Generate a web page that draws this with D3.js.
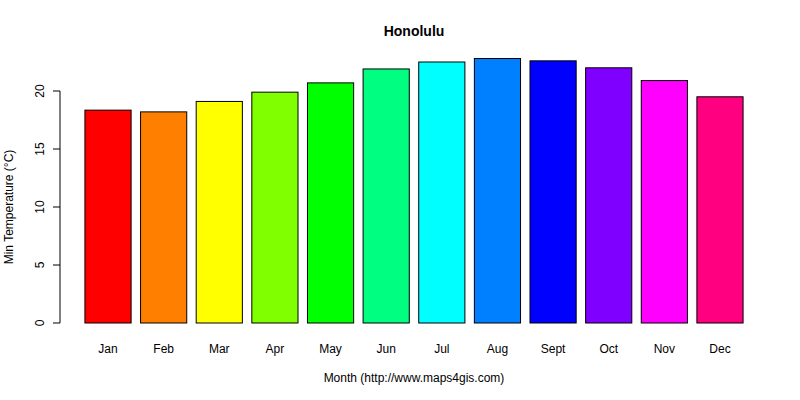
<!DOCTYPE html>
<html><head><meta charset="utf-8">
<script src="https://cdn.jsdelivr.net/npm/d3@7"></script>
<style>body{margin:0;background:#fff}text{font-family:"Liberation Sans",Arial,sans-serif}</style>
</head><body><div id="vis"></div>
<script>
const months = ["Jan","Feb","Mar","Apr","May","Jun","Jul","Aug","Sept","Oct","Nov","Dec"]
const minTemp = [18.35, 18.2, 19.1, 19.9, 20.7, 21.9, 22.5, 22.8, 22.6, 22.0, 20.9, 19.5]
const colors = ["#FF0000","#FF8000","#FFFF00","#80FF00","#00FF00","#00FF80","#00FFFF","#0080FF","#0000FF","#8000FF","#FF00FF","#FF0080"]
const yTicks = [0, 5, 10, 15, 20]

const svg = d3.select('#vis').append('svg').attr('width', 800).attr('height', 400)

const x = d3.scaleBand().domain(months).range([80.2, 747.8]).paddingInner(0.17).paddingOuter(0.085)
const y = d3.scaleLinear().domain([0, 20]).range([323, 91])

// bars
svg.selectAll('rect').data(months).join('rect')
    .attr('x', d => x(d))
    .attr('width', x.bandwidth())
    .attr('y', (d, i) => y(minTemp[i]))
    .attr('height', (d, i) => y(0) - y(minTemp[i]))
    .attr('fill', (d, i) => colors[i])
    .attr('stroke', '#000').attr('stroke-width', 1)

// y axis
const ya = svg.append('g').attr('transform', 'translate(60,0)')
    .call(d3.axisLeft(y).tickValues(yTicks).tickSize(7).tickPadding(4))
ya.selectAll('text').attr('font-size', 12).attr('fill', '#000')
    .attr('transform', d => `rotate(-90,-11,${y(d)})`)
    .attr('x', -11).attr('dy', 0).attr('text-anchor', 'middle')
    .attr('y', d => y(d) - 0) 
ya.selectAll('.tick').attr('transform', null)
ya.selectAll('.tick line').attr('y1', d => y(d)).attr('y2', d => y(d))
ya.selectAll('.tick text').attr('transform', d => `rotate(-90,-20,${y(d)})`).attr('x', -20).attr('y', d => y(d) + 0)
    .attr('dominant-baseline', 'auto').attr('dy', '0.35em')
ya.select('.domain').attr('d', `M-7,${y(0)}H0V${y(20)}H-7`).attr('d', `M0,${y(0)}V${y(20)}`)

// x labels
svg.selectAll('.xl').data(months).join('text').attr('class', 'xl')
    .attr('x', d => x(d) + x.bandwidth() / 2).attr('y', 353)
    .attr('text-anchor', 'middle').attr('font-size', 12).text(d => d)

svg.append('text').attr('x', 414).attr('y', 36).attr('text-anchor', 'middle')
    .attr('font-size', 14).attr('font-weight', 'bold').text('Honolulu')
svg.append('text').attr('x', 414).attr('y', 382).attr('text-anchor', 'middle')
    .attr('font-size', 12).text('Month (http://www.maps4gis.com)')
svg.append('text').attr('transform', 'translate(13,207) rotate(-90)').attr('text-anchor', 'middle')
    .attr('font-size', 12).text('Min Temperature (°C)')
</script></body></html>
